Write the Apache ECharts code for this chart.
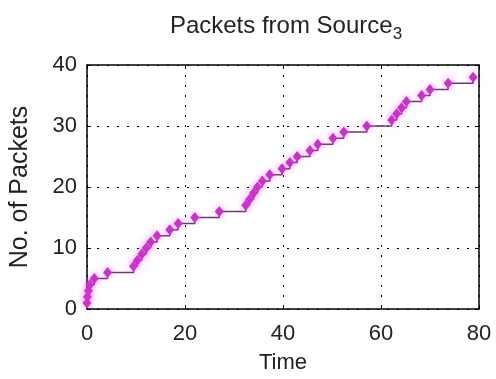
<!DOCTYPE html>
<html>
<head>
<meta charset="utf-8">
<script src="https://cdn.jsdelivr.net/npm/echarts@6/dist/echarts.min.js"></script>
<style>
  html, body { margin: 0; padding: 0; background: #fff; }
  #chart-packets { width: 496px; height: 379px; }
</style>
</head>
<body>
<div id="chart-packets"></div>
<script>
// ============================================================
// 数据：每个到达时刻与累计包数
// ============================================================
var ARRIVAL_TIMES = [
  0, 0.1, 0.3, 0.6, 1.5, 4.2,
  9.5, 10.3, 11.2, 12.1, 13.0, 14.3,
  16.9, 18.6, 22.0, 27.0,
  32.4, 33.2, 34.0, 34.8, 35.8, 37.3,
  39.8, 41.4, 42.9, 45.5, 47.1, 50.2, 52.4, 57.1,
  62.2, 63.2, 64.2, 65.2, 68.3, 70.0, 73.7, 78.8
];
var PACKET_COUNTS = [
  1, 2, 3, 4, 5, 6,
  7, 8, 9, 10, 11, 12,
  13, 14, 15, 16,
  17, 18, 19, 20, 21, 22,
  23, 24, 25, 26, 27, 28, 29, 30,
  31, 32, 33, 34, 35, 36, 37, 38
];
var X_TICKS = [0, 20, 40, 60, 80];
var Y_TICKS = [0, 10, 20, 30, 40];

var TITLE_TEXT = 'Packets from Source';
var TITLE_SUB = '3';
var X_NAME = 'Time';
var Y_NAME = 'No. of Packets';

var FONT = '"Liberation Sans", Arial, sans-serif';
var TEXT_COLOR = '#222';

// ============================================================
// 图表渲染
// ============================================================
function buildSeriesData() {
  return ARRIVAL_TIMES.map(function(t, i) {
    return [t, PACKET_COUNTS[i]];
  });
}

function axisBase(showLabel) {
  return {
    type: 'value',
    axisLine: { show: true, onZero: false, lineStyle: { color: '#000', width: 1.5 } },
    axisTick: { show: true, inside: true, length: 4, lineStyle: { color: '#000' } },
    axisLabel: {
      show: showLabel,
      fontFamily: FONT,
      fontSize: 22,
      color: TEXT_COLOR
    },
    splitLine: { show: false }
  };
}

function renderChart() {
  var chart = echarts.init(document.getElementById('chart-packets'), null, { renderer: 'canvas' });

  var xMain = axisBase(true);
  xMain.position = 'bottom';
  xMain.min = X_TICKS[0];
  xMain.max = X_TICKS[X_TICKS.length - 1];
  xMain.interval = X_TICKS[1] - X_TICKS[0];
  xMain.axisLabel.margin = 14;
  xMain.name = X_NAME;
  xMain.nameLocation = 'middle';
  xMain.nameGap = 43;
  xMain.nameTextStyle = { fontFamily: FONT, fontSize: 22, color: TEXT_COLOR };
  xMain.splitLine = { show: true, lineStyle: { color: '#000', type: [2, 8], width: 1 } };

  var xTop = axisBase(false);
  xTop.position = 'top';
  xTop.min = xMain.min;
  xTop.max = xMain.max;
  xTop.interval = xMain.interval;

  var yMain = axisBase(true);
  yMain.position = 'left';
  yMain.min = Y_TICKS[0];
  yMain.max = Y_TICKS[Y_TICKS.length - 1];
  yMain.interval = Y_TICKS[1] - Y_TICKS[0];
  yMain.axisLabel.margin = 10;
  yMain.name = Y_NAME;
  yMain.nameLocation = 'middle';
  yMain.nameGap = 54;
  yMain.nameTextStyle = { fontFamily: FONT, fontSize: 25, color: TEXT_COLOR };
  yMain.splitLine = { show: true, lineStyle: { color: '#000', type: [2, 8], width: 1 } };

  var yRight = axisBase(false);
  yRight.position = 'right';
  yRight.min = yMain.min;
  yRight.max = yMain.max;
  yRight.interval = yMain.interval;

  chart.setOption({
    backgroundColor: '#fff',
    animation: false,
    title: {
      text: '{a|' + TITLE_TEXT + '}{b|' + TITLE_SUB + '}',
      left: 281,
      textAlign: 'center',
      top: 5,
      textStyle: {
        rich: {
          a: { fontFamily: FONT, fontSize: 24, fontWeight: 'normal', color: TEXT_COLOR },
          b: { fontFamily: FONT, fontSize: 17, fontWeight: 'normal', color: TEXT_COLOR, padding: [16, 0, 0, 0] }
        }
      }
    },
    grid: { left: 87, right: 17, top: 65, bottom: 70 },
    xAxis: [xMain, xTop],
    yAxis: [yMain, yRight],
    series: [{
      type: 'line',
      step: 'end',
      data: buildSeriesData(),
      symbol: 'diamond',
      symbolSize: [9, 11],
      lineStyle: { color: '#6e3478', width: 1.5 },
      itemStyle: {
        color: '#c832c8',
        shadowColor: 'rgba(255, 80, 255, 0.6)',
        shadowBlur: 7
      }
    }]
  });
}

renderChart();
</script>
</body>
</html>
